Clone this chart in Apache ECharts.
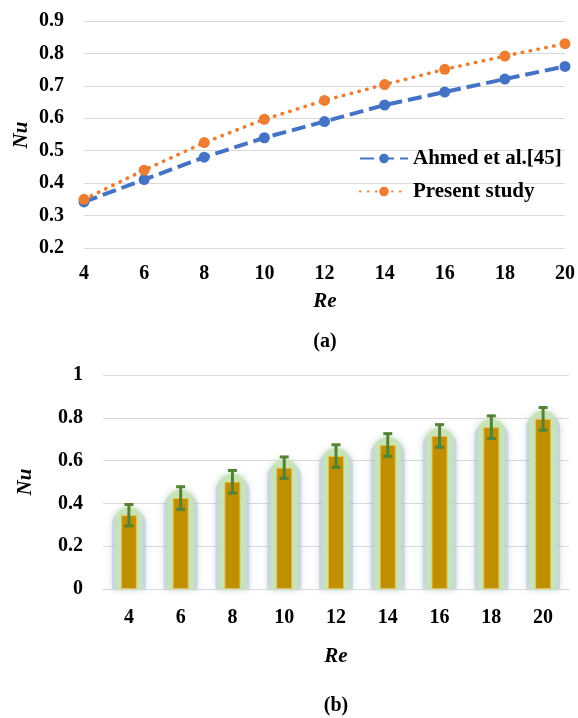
<!DOCTYPE html>
<html>
<head>
<meta charset="utf-8">
<script src="https://cdn.jsdelivr.net/npm/echarts@6/dist/echarts.min.js"></script>
<style>
html,body{margin:0;padding:0;background:#fff;}
#chart{width:578px;height:718px;}
</style>
</head>
<body>
<div id="chart"></div>
<script>
// ---- data ----
const reValues = [4, 6, 8, 10, 12, 14, 16, 18, 20];
const ahmedNu = [0.342, 0.411, 0.480, 0.540, 0.590, 0.641, 0.681, 0.721, 0.760];
const presentNu = [0.350, 0.440, 0.525, 0.597, 0.655, 0.704, 0.751, 0.792, 0.830];
const barCategories = ['4', '6', '8', '10', '12', '14', '16', '18', '20'];
const barNu = [0.345, 0.425, 0.501, 0.567, 0.621, 0.673, 0.715, 0.756, 0.795];
const barErr = [0.05, 0.053, 0.053, 0.05, 0.053, 0.053, 0.053, 0.053, 0.053];

const FONT = "'Liberation Serif', 'Times New Roman', serif";
const chart = echarts.init(document.getElementById('chart'), null, {renderer: 'canvas'});

const lbl = {fontFamily: FONT, fontWeight: 'bold', fontSize: 20, color: '#000'};

function glowItem(params, api) {
  const x = api.value(0), v = api.value(1);
  const top = api.coord([x, v]);
  const base = api.coord([x, 0]);
  const h = base[1] - top[1];
  return {
    type: 'group',
    children: [
      {type: 'rect', shape: {x: top[0] - 17, y: top[1] - 5, width: 34, height: h + 5, r: [14, 14, 0, 0]},
       style: {fill: 'rgba(165,185,215,0.45)', shadowBlur: 7, shadowColor: 'rgba(165,185,215,0.9)'}},
      {type: 'rect', shape: {x: top[0] - 13, y: top[1] - 8, width: 26, height: h + 8, r: [12, 12, 0, 0]},
       style: {fill: 'rgba(200,228,182,0.95)', shadowBlur: 6, shadowColor: 'rgba(200,228,182,1)'}}
    ]
  };
}

const option = {
  backgroundColor: '#fff',
  animation: false,
  grid: [
    {left: 84, right: 11, top: 21, height: 227},
    {left: 103, right: 9, top: 375, height: 214}
  ],
  xAxis: [
    {
      gridIndex: 0, type: 'value', min: 4, max: 20, interval: 2,
      axisLine: {show: false}, axisTick: {show: false}, splitLine: {show: false},
      axisLabel: Object.assign({margin: 16}, lbl)
    },
    {
      gridIndex: 1, type: 'category', data: barCategories,
      axisLine: {show: true, lineStyle: {color: '#d9d9d9', width: 1}}, axisTick: {show: false},
      axisLabel: Object.assign({margin: 19}, lbl)
    }
  ],
  yAxis: [
    {
      gridIndex: 0, type: 'value', min: 0.2, max: 0.9, interval: 0.1,
      axisLine: {show: false}, axisTick: {show: false},
      splitLine: {lineStyle: {color: '#d9d9d9', width: 1}},
      axisLabel: Object.assign({margin: 20, formatter: v => v.toFixed(1)}, lbl)
    },
    {
      gridIndex: 1, type: 'value', min: 0, max: 1, interval: 0.2,
      axisLine: {show: false}, axisTick: {show: false},
      splitLine: {lineStyle: {color: '#d9d9d9', width: 1}},
      axisLabel: Object.assign({margin: 20}, lbl)
    }
  ],
  legend: {
    orient: 'vertical', left: 354, top: 143, itemGap: 12,
    itemWidth: 48, itemHeight: 12,
    textStyle: {fontFamily: FONT, fontWeight: 'bold', fontSize: 21, color: '#000'},
    data: ['Ahmed et al.[45]', 'Present study']
  },
  series: [
    {
      name: 'Ahmed et al.[45]', type: 'line', xAxisIndex: 0, yAxisIndex: 0,
      data: reValues.map((r, i) => [r, ahmedNu[i]]),
      symbol: 'circle', symbolSize: 11,
      itemStyle: {color: '#4472C4'},
      lineStyle: {color: '#4472C4', width: 4, type: [14, 6]},
      z: 3
    },
    {
      name: 'Present study', type: 'line', xAxisIndex: 0, yAxisIndex: 0,
      data: reValues.map((r, i) => [r, presentNu[i]]),
      symbol: 'circle', symbolSize: 11,
      itemStyle: {color: '#ED7D31'},
      lineStyle: {color: '#ED7D31', width: 3.5, type: [0.5, 7.5], cap: 'round'},
      z: 4
    },
    {
      type: 'custom', xAxisIndex: 1, yAxisIndex: 1,
      data: barNu.map((v, i) => [i, v]),
      renderItem: glowItem, z: 1, silent: true
    },
    {
      type: 'bar', xAxisIndex: 1, yAxisIndex: 1, data: barNu,
      barWidth: 16,
      itemStyle: {color: '#BF8F00', borderColor: '#E3C25C', borderWidth: 1},
      z: 2, silent: true
    },
    {
      type: 'custom', xAxisIndex: 1, yAxisIndex: 1,
      data: barNu.map((v, i) => [i, v, barErr[i]]),
      renderItem: function (params, api) {
        const x = api.value(0), v = api.value(1), e = api.value(2);
        const top = api.coord([x, v + e]);
        const bot = api.coord([x, v - e]);
        const hw = 4.5;
        const st = {stroke: '#548235', lineWidth: 3};
        return {
          type: 'group',
          children: [
            {type: 'line', shape: {x1: top[0], y1: top[1], x2: bot[0], y2: bot[1]}, style: st},
            {type: 'line', shape: {x1: top[0] - hw, y1: top[1], x2: top[0] + hw, y2: top[1]}, style: st},
            {type: 'line', shape: {x1: bot[0] - hw, y1: bot[1], x2: bot[0] + hw, y2: bot[1]}, style: st}
          ]
        };
      },
      z: 5
    }
  ],
  graphic: [
    {type: 'text', x: 22, y: 135, rotation: Math.PI / 2,
     style: {text: 'Nu', fontFamily: FONT, fontWeight: 'bold', fontStyle: 'italic', fontSize: 21, fill: '#000', textAlign: 'center', textVerticalAlign: 'middle'}},
    {type: 'text', x: 325, y: 302,
     style: {text: 'Re', fontFamily: FONT, fontWeight: 'bold', fontStyle: 'italic', fontSize: 21, fill: '#000', textAlign: 'center', textVerticalAlign: 'middle'}},
    {type: 'text', x: 325, y: 342,
     style: {text: '(a)', fontFamily: FONT, fontWeight: 'bold', fontSize: 20, fill: '#000', textAlign: 'center', textVerticalAlign: 'middle'}},
    {type: 'text', x: 26, y: 482, rotation: Math.PI / 2,
     style: {text: 'Nu', fontFamily: FONT, fontWeight: 'bold', fontStyle: 'italic', fontSize: 21, fill: '#000', textAlign: 'center', textVerticalAlign: 'middle'}},
    {type: 'text', x: 336, y: 657,
     style: {text: 'Re', fontFamily: FONT, fontWeight: 'bold', fontStyle: 'italic', fontSize: 21, fill: '#000', textAlign: 'center', textVerticalAlign: 'middle'}},
    {type: 'text', x: 336, y: 706,
     style: {text: '(b)', fontFamily: FONT, fontWeight: 'bold', fontSize: 20, fill: '#000', textAlign: 'center', textVerticalAlign: 'middle'}}
  ]
};
chart.setOption(option);
</script>
</body>
</html>
